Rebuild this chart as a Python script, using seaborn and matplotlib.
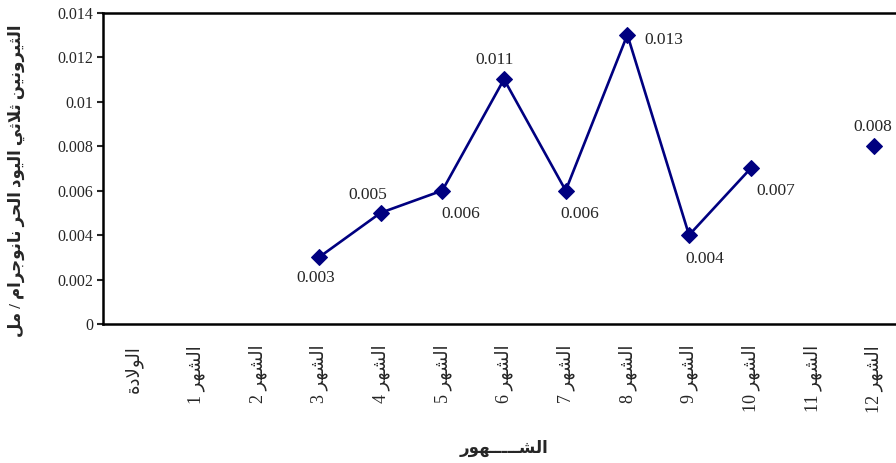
import re
import numpy as np
import pandas as pd
import matplotlib
matplotlib.use("Agg")
import matplotlib.pyplot as plt
import seaborn as sns

# ---- data ----
categorias = ["الولادة"] + [f"الشهر {i}" for i in range(1, 13)]
valores = [np.nan, np.nan, np.nan, 0.003, 0.005, 0.006, 0.011,
           0.006, 0.013, 0.004, 0.007, np.nan, 0.008]
rotulos = ["", "", "", "0.003", "0.005", "0.006", "0.011",
           "0.006", "0.013", "0.004", "0.007", "", "0.008"]
eixo_y = [0, 0.002, 0.004, 0.006, 0.008, 0.01, 0.012, 0.014]
titulo_x = "الشـــــهور"
titulo_y = "الثيرونين ثلاثي اليود الحر نانوجرام / مل"

# label offsets (points) and alignment per point
offsets = {3: (-2, -15, "center"), 4: (-9, 13, "center"), 5: (13, -17, "center"),
           6: (-7, 14, "center"), 7: (10, -17, "center"), 8: (12, -4, "left"),
           9: (11, -17, "center"), 10: (18, -16, "center"), 12: (-1, 14, "center")}

# ---- minimal arabic shaping (matplotlib has no complex text layout) ----
DUAL = {'ث': 0xFE99, 'ج': 0xFE9D, 'ح': 0xFEA1, 'س': 0xFEB1, 'ش': 0xFEB5,
        'ل': 0xFEDD, 'م': 0xFEE1, 'ن': 0xFEE5, 'ه': 0xFEE9, 'ي': 0xFEF1, 'ك': 0xFED9}
RIGHT = {'ا': 0xFE8D, 'د': 0xFEA9, 'ر': 0xFEAD, 'و': 0xFEED, 'ة': 0xFE93}
TATWEEL = 'ـ'


def _liga_prox(c):
    return c in DUAL or c == TATWEEL


def _ligavel(c):
    return c in DUAL or c in RIGHT or c == TATWEEL


def arabe(texto):
    out = []
    i, n = 0, len(texto)
    while i < n:
        c = texto[i]
        prev = texto[i - 1] if i > 0 else ''
        lp = _liga_prox(prev) and _ligavel(c)
        if c == 'ل' and i + 1 < n and texto[i + 1] == 'ا':
            out.append(chr(0xFEFC if lp else 0xFEFB))
            i += 2
            continue
        nxt = texto[i + 1] if i + 1 < n else ''
        ln = _liga_prox(c) and _ligavel(nxt)
        if c in DUAL:
            out.append(chr(DUAL[c] + (3 if lp and ln else 1 if lp else 2 if ln else 0)))
        elif c in RIGHT:
            out.append(chr(RIGHT[c] + (1 if lp else 0)))
        else:
            out.append(c)
        i += 1
    visual = ''.join(out)[::-1]
    return re.sub(r'[0-9A-Za-z.]+', lambda m: m.group()[::-1], visual)


# ---- style ----
sns.set_style("white")
plt.rcParams['font.family'] = ['Liberation Serif', 'DejaVu Sans']
plt.rcParams['axes.linewidth'] = 1.8

df = pd.DataFrame({"x": np.arange(len(categorias)), "y": valores})
df["seg"] = df["y"].isna().cumsum()
df_ok = df.dropna()

fig = plt.figure(figsize=(8.96, 4.63), dpi=100)
ax = fig.add_axes([0.115, 0.300, 0.895, 0.673])

sns.lineplot(data=df_ok, x="x", y="y", units="seg", estimator=None,
             color="#000080", linewidth=1.9, marker="D", markersize=8,
             markeredgecolor="#000080", ax=ax)

for i, lab in enumerate(rotulos):
    if lab:
        dx, dy, ha = offsets[i]
        ax.annotate(lab, (i, valores[i]), xytext=(dx, dy), textcoords="offset points",
                    ha=ha, va="center", fontsize=12.5)

ax.set_xlim(-0.5, len(categorias) - 0.5)
ax.set_ylim(0, 0.014)
ax.set_yticks(eixo_y)
ax.set_yticklabels([f"{v:g}" for v in eixo_y], fontsize=11.5)
ax.set_xticks(np.arange(len(categorias)))
ax.set_xticklabels([arabe(c) for c in categorias], rotation=90, fontsize=13)
ax.tick_params(axis="y", length=4, width=1.5, left=True, pad=3)
ax.tick_params(axis="x", length=0, pad=15)

ax.set_xlabel(arabe(titulo_x), fontsize=12, fontweight="bold", labelpad=20)
ax.set_ylabel(arabe(titulo_y), fontsize=12, fontweight="bold")
ax.yaxis.set_label_coords(-0.097, 0.46)

for s in ["top", "left", "bottom"]:
    ax.spines[s].set_visible(True)
    ax.spines[s].set_color("black")
ax.spines["right"].set_visible(False)

fig.savefig("out.png", dpi=100)
